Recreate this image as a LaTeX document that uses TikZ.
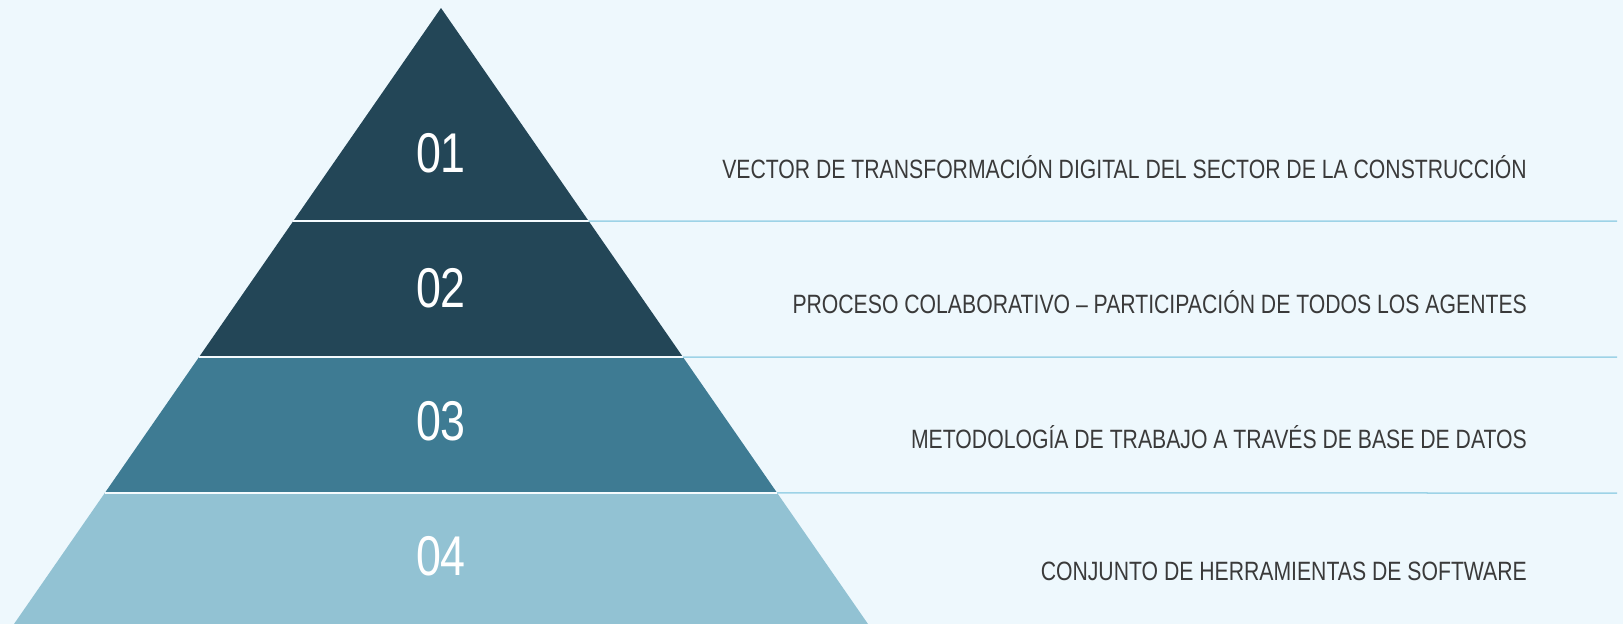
\documentclass[tikz,border=0pt]{standalone}
\usepackage{fontspec}
\setmainfont[FakeStretch=0.8]{Liberation Sans}
\usetikzlibrary{calc}
\definecolor{bg}{HTML}{EEF8FD}
\definecolor{dark}{HTML}{234657}
\definecolor{mid}{HTML}{3E7B93}
\definecolor{light}{HTML}{92C2D3}
\definecolor{sep}{HTML}{9DD3E7}
\definecolor{txt}{HTML}{3A3A3A}
\tikzset{
  num/.style={text=white,font=\fontsize{56}{56}\selectfont,anchor=base,inner sep=0pt},
  lbl/.style={text=txt,font=\fontsize{26.5}{26.5}\selectfont,anchor=base east,inner sep=0pt},
  sepline/.style={draw=sep,line width=1.5pt},
  gapline/.style={draw=bg!60!white,line width=1.5pt}
}
\begin{document}
\begin{tikzpicture}[x=1pt,y=-1pt]
\fill[bg] (0,0) rectangle (1623,624);
\useasboundingbox (0,0) rectangle (1623,624);
\coordinate (apex) at (441,8);
\coordinate (bl) at (14,624);
\coordinate (br) at (868,624);
\coordinate (l1) at ($(apex)!0.3458!(bl)$);
\coordinate (r1) at ($(apex)!0.3458!(br)$);
\coordinate (l2) at ($(apex)!0.5666!(bl)$);
\coordinate (r2) at ($(apex)!0.5666!(br)$);
\coordinate (l3) at ($(apex)!0.7873!(bl)$);
\coordinate (r3) at ($(apex)!0.7873!(br)$);
\coordinate (e1) at (1617,221);
\coordinate (e2) at (1617,357);
\coordinate (e3) at (1617,493);
\fill[dark] (apex) -- (r1) -- (l1) -- cycle;
\fill[dark] (l1) -- (r1) -- (r2) -- (l2) -- cycle;
\fill[mid] (l2) -- (r2) -- (r3) -- (l3) -- cycle;
\fill[light] (l3) -- (r3) -- (br) -- (bl) -- cycle;
\draw[gapline] (l1) -- (r1);
\draw[gapline] (l2) -- (r2);
\draw[gapline] (l3) -- (r3);
\draw[sepline] (r1) -- (e1);
\draw[sepline] (r2) -- (e2);
\draw[sepline] (r3) -- (e3);
\node[num] (n1) at (441,172) {01};
\node[num] (n2) at (441,307) {02};
\node[num] (n3) at (441,440) {03};
\node[num] (n4) at (441,575) {04};
\node[lbl] (t1) at (1527,178) {VECTOR DE TRANSFORMACIÓN DIGITAL DEL SECTOR DE LA CONSTRUCCIÓN};
\node[lbl] (t2) at (1527,313) {PROCESO COLABORATIVO – PARTICIPACIÓN DE TODOS LOS AGENTES};
\node[lbl] (t3) at (1527,448) {METODOLOGÍA DE TRABAJO A TRAVÉS DE BASE DE DATOS};
\node[lbl] (t4) at (1527,580) {CONJUNTO DE HERRAMIENTAS DE SOFTWARE};
\end{tikzpicture}
\end{document}
